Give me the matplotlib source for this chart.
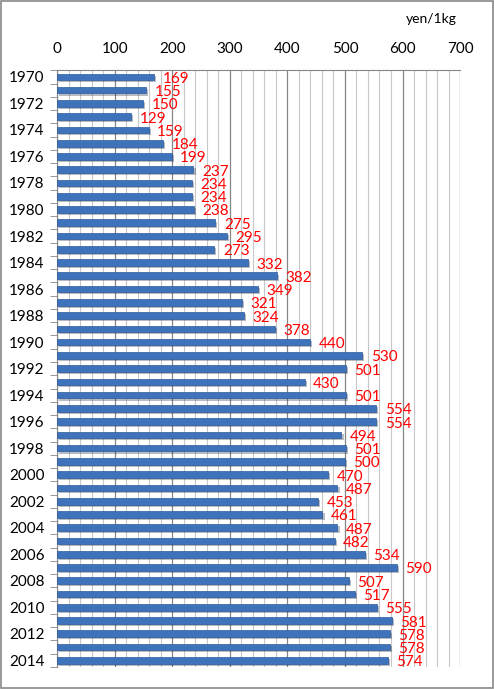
import matplotlib
matplotlib.use("Agg")
import matplotlib.pyplot as plt
from matplotlib.ticker import MultipleLocator, FixedLocator
import matplotlib.patheffects as pe

years = list(range(1970, 2015))
prices = [169, 155, 150, 129, 159, 184, 199, 237, 234, 234, 238, 275, 295, 273,
          332, 382, 349, 321, 324, 378, 440, 530, 501, 430, 501, 554, 554, 494,
          501, 500, 470, 487, 453, 461, 487, 482, 534, 590, 507, 517, 555, 581,
          578, 578, 574]
year_labels = [str(y) if (y - 1970) % 2 == 0 else "" for y in years]
unit_label = "yen/1kg"

plt.rcParams['font.family'] = ['Lato', 'DejaVu Sans']

fig = plt.figure(figsize=(4.94, 6.89), dpi=100)
ax = fig.add_axes([0.1154, 0.032, 0.816, 0.866])

pos = list(range(len(years)))
ax.barh(pos, prices, height=0.5, color="#3E72BA", edgecolor="#2C5A9C", linewidth=0.5,
        zorder=3, path_effects=[pe.SimplePatchShadow(offset=(1.5, -1.5), alpha=0.3), pe.Normal()])

for p, v in zip(pos, prices):
    ax.text(v + 15, p + 0.15, str(v), color="#FF0000", fontsize=11,
            va="center", ha="left", zorder=4)

ax.set_xlim(0, 700)
ax.set_ylim(len(years) - 0.5, -0.5)
ax.xaxis.set_major_locator(MultipleLocator(100))
ax.xaxis.set_minor_locator(MultipleLocator(20))
ax.xaxis.tick_top()
ax.tick_params(axis="x", which="both", length=0, labelsize=11, pad=10)
ax.grid(axis="x", which="major", color="#868686", linewidth=0.9, zorder=0)
ax.grid(axis="x", which="minor", color="#C8C8C8", linewidth=0.8, zorder=0)

ax.set_yticks(pos)
ax.set_yticklabels(year_labels, fontsize=11)
ax.yaxis.set_minor_locator(FixedLocator([i - 0.5 for i in range(len(years) + 1)]))
ax.tick_params(axis="y", which="major", length=0, pad=9)
ax.tick_params(axis="y", which="minor", length=5, color="#868686")

for s in ["right", "bottom"]:
    ax.spines[s].set_visible(False)
ax.spines["left"].set_color("#868686")
ax.spines["top"].set_color("#868686")

fig.text(0.873, 0.972, unit_label, fontsize=10, ha="center", va="center")

border = plt.Rectangle((0.002, 0.002), 0.996, 0.996, transform=fig.transFigure,
                       fill=False, edgecolor="#888888", linewidth=1.2)
fig.patches.append(border)

fig.savefig("out.png", dpi=100)
